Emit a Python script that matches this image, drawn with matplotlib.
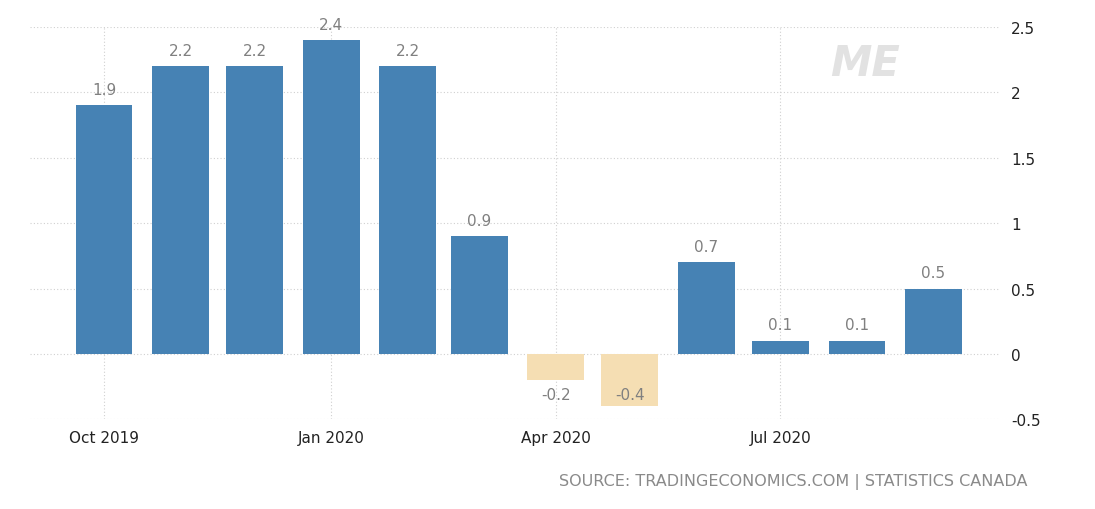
import matplotlib.pyplot as plt
import matplotlib.dates as mdates
import pandas as pd

# monthly values, Oct 2019 .. Sep 2020
months = ["2019-10", "2019-11", "2019-12", "2020-01", "2020-02", "2020-03",
          "2020-04", "2020-05", "2020-06", "2020-07", "2020-08", "2020-09"]
values = [1.9, 2.2, 2.2, 2.4, 2.2, 0.9, -0.2, -0.4, 0.7, 0.1, 0.1, 0.5]
tick_months = ["2019-10", "2020-01", "2020-04", "2020-07"]
tick_labels = ["Oct 2019", "Jan 2020", "Apr 2020", "Jul 2020"]
y_ticks = [-0.5, 0, 0.5, 1, 1.5, 2, 2.5]
y_labels = ["-0.5", "0", "0.5", "1", "1.5", "2", "2.5"]

dates = pd.to_datetime(months)
colors = ["#4682b4" if v >= 0 else "#f5deb3" for v in values]

fig = plt.figure(figsize=(10.95, 5.1), dpi=100)
ax = fig.add_axes([0.0274, 0.176, 0.886, 0.769])

ax.bar(dates, values, width=23, color=colors, zorder=3)

for d, v in zip(dates, values):
    if v >= 0:
        ax.annotate(f"{v:g}", xy=(d, v), xytext=(0, 6), textcoords="offset points",
                    ha="center", va="bottom", fontsize=11, color="#808080", zorder=4)
    else:
        ax.text(d, max(v - 0.14, -0.31), f"{v:g}", ha="center", va="center",
                fontsize=11, color="#808080", zorder=4)

ax.set_xlim(pd.Timestamp("2019-09-01"), pd.Timestamp("2020-09-28"))
ax.set_ylim(-0.5, 2.5)
ax.set_xticks(pd.to_datetime(tick_months))
ax.set_xticklabels(tick_labels)
ax.set_yticks(y_ticks)
ax.set_yticklabels(y_labels)
ax.yaxis.tick_right()
ax.tick_params(axis="both", length=0, labelsize=11, colors="#222222")
ax.tick_params(axis="y", pad=8)
ax.tick_params(axis="x", pad=8)

ax.grid(True, linestyle=(0, (1, 2)), color="#d0d0d0", linewidth=0.8, zorder=0)
for s in ax.spines.values():
    s.set_visible(False)

# watermark logo placeholder
fig.text(0.79, 0.875, "ME", fontsize=30, fontweight="bold", style="italic",
         color="#e2e2e2", ha="center", va="center")

fig.text(0.938, 0.055, "SOURCE: TRADINGECONOMICS.COM | STATISTICS CANADA",
         ha="right", va="center", fontsize=11.5, color="#8a8a8a")

fig.savefig("out.png", dpi=100)
